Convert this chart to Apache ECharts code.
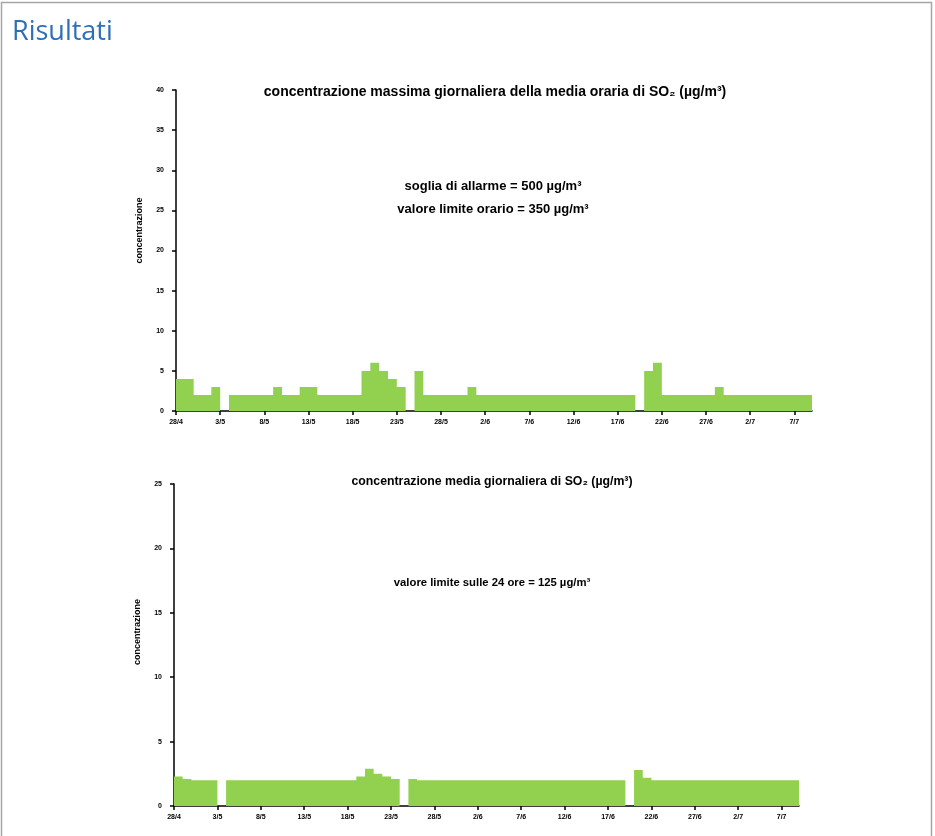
<!DOCTYPE html>
<html>
<head>
<meta charset="utf-8">
<script src="https://cdn.jsdelivr.net/npm/echarts@6/dist/echarts.min.js"></script>
<style>
html,body{margin:0;padding:0;background:#fff;}
#chart{width:935px;height:836px;}
</style>
</head>
<body>
<div id="chart"></div>
<script>
// ---- data ----
const dates = ['28/4','29/4','30/4',
 '1/5','2/5','3/5','4/5','5/5','6/5','7/5','8/5','9/5','10/5','11/5','12/5','13/5','14/5','15/5','16/5','17/5','18/5','19/5','20/5','21/5','22/5','23/5','24/5','25/5','26/5','27/5','28/5','29/5','30/5','31/5',
 '1/6','2/6','3/6','4/6','5/6','6/6','7/6','8/6','9/6','10/6','11/6','12/6','13/6','14/6','15/6','16/6','17/6','18/6','19/6','20/6','21/6','22/6','23/6','24/6','25/6','26/6','27/6','28/6','29/6','30/6',
 '1/7','2/7','3/7','4/7','5/7','6/7','7/7','8/7'];
const tickLabels = ['28/4','3/5','8/5','13/5','18/5','23/5','28/5','2/6','7/6','12/6','17/6','22/6','27/6','2/7','7/7'];

const maxOraria = [4,4,2,2,3,null,2,2,2,2,2,3,2,2,3,3,2,2,2,2,2,5,6,5,4,3,null,5,2,2,2,2,2,3,
 2,2,2,2,2,2,2,2,2,2,2,2,2,2,2,2,2,2,null,5,6,2,2,2,2,2,2,3,2,2,2,2,2,2,2,2,2,2];
const mediaGiorn = [2.3,2.1,2.0,2.0,2.0,null,2.0,2.0,2.0,2.0,2.0,2.0,2.0,2.0,2.0,2.0,2.0,2.0,2.0,2.0,2.0,
 2.3,2.9,2.5,2.3,2.1,null,2.1,2.0,2.0,2.0,2.0,2.0,2.0,2.0,2.0,2.0,2.0,2.0,2.0,2.0,2.0,2.0,2.0,2.0,2.0,2.0,2.0,2.0,2.0,2.0,2.0,
 null,2.8,2.2,2.0,2.0,2.0,2.0,2.0,2.0,2.0,2.0,2.0,2.0,2.0,2.0,2.0,2.0,2.0,2.0,2.0];

const title1 = 'concentrazione massima giornaliera della media oraria di SO\u2082 (\u00b5g/m\u00b3)';
const title2 = 'concentrazione media giornaliera di SO\u2082 (\u00b5g/m\u00b3)';
const note1a = 'soglia di allarme = 500 \u00b5g/m\u00b3';
const note1b = 'valore limite orario = 350 \u00b5g/m\u00b3';
const note2 = 'valore limite sulle 24 ore = 125 \u00b5g/m\u00b3';
const yName = 'concentrazione';

const FONT = '"Liberation Sans", Arial, sans-serif';
const GREEN = '#92D050';
const tickPos = tickLabels.map((_, i) => i * 5);

function valueX(gridIndex) {
  return {
    type: 'value', gridIndex: gridIndex, min: 0, max: dates.length, position: 'bottom',
    splitLine: {show: false},
    axisLine: {show: true, lineStyle: {color: '#000', width: 1.5}},
    axisTick: {show: true, length: 4, lineStyle: {color: '#000', width: 1.5}, customValues: tickPos},
    axisLabel: {show: true, customValues: tickPos, fontSize: 7, fontWeight: 'bold', color: '#000', fontFamily: FONT, margin: 8,
      formatter: v => { const k = Math.round(v / 5); return tickLabels[k] !== undefined ? tickLabels[k] : ''; }}
  };
}
function catX(gridIndex) {
  return {type: 'category', gridIndex: gridIndex, data: dates, show: false, boundaryGap: true, position: 'bottom'};
}
function yAx(gridIndex, max, shift) {
  return {
    type: 'value', gridIndex: gridIndex, min: 0, max: max, interval: 5,
    name: yName, nameLocation: 'middle', nameGap: 32, nameRotate: 90,
    nameTextStyle: {fontSize: 9, fontWeight: 'bold', color: '#000', fontFamily: FONT, padding: [0, 0, 0, shift]},
    splitLine: {show: false},
    axisLine: {show: true, lineStyle: {color: '#000', width: 1.5}},
    axisTick: {show: true, length: 4, lineStyle: {color: '#000', width: 1.5}},
    axisLabel: {fontSize: 7, fontWeight: 'bold', color: '#000', fontFamily: FONT, margin: 12}
  };
}
const barStyle = {color: GREEN, opacity: 1};

const option = {
  backgroundColor: '#fff',
  animation: false,
  title: [
    {text: title1, left: 490, top: 80, textAlign: 'center', textStyle: {fontSize: 14, fontWeight: 'bold', color: '#000', fontFamily: FONT}},
    {text: note1a, left: 488, top: 175, textAlign: 'center', textStyle: {fontSize: 13, fontWeight: 'bold', color: '#000', fontFamily: FONT}},
    {text: note1b, left: 488, top: 198, textAlign: 'center', textStyle: {fontSize: 13, fontWeight: 'bold', color: '#000', fontFamily: FONT}},
    {text: title2, left: 487, top: 471, textAlign: 'center', textStyle: {fontSize: 12.3, fontWeight: 'bold', color: '#000', fontFamily: FONT}},
    {text: note2, left: 487, top: 572, textAlign: 'center', textStyle: {fontSize: 11.3, fontWeight: 'bold', color: '#000', fontFamily: FONT}}
  ],
  graphic: [
    {type: 'rect', shape: {x: 1.5, y: 2.5, width: 930, height: 860}, style: {fill: 'none', stroke: '#A6A6A6', lineWidth: 1.5}, silent: true},
    {type: 'text', left: 12, top: 19, style: {text: 'Risultati', fontSize: 27, fill: '#2E6FB7', fontFamily: '"Open Sans", sans-serif'}}
  ],
  grid: [
    {left: 176, top: 90, width: 636, height: 321, containLabel: false},
    {left: 174, top: 484, width: 625, height: 322, containLabel: false}
  ],
  xAxis: [catX(0), valueX(0), catX(1), valueX(1)],
  yAxis: [yAx(0, 40, 40), yAx(1, 25, 26)],
  series: [
    {type: 'bar', xAxisIndex: 0, yAxisIndex: 0, data: maxOraria, barCategoryGap: '0%', large: true, largeThreshold: 1, itemStyle: barStyle, z: 1},
    {type: 'bar', xAxisIndex: 2, yAxisIndex: 1, data: mediaGiorn, barCategoryGap: '0%', large: true, largeThreshold: 1, itemStyle: barStyle, z: 1}
  ]
};
const chart = echarts.init(document.getElementById('chart'), null, {renderer: 'canvas'});
chart.setOption(option);
</script>
</body>
</html>
